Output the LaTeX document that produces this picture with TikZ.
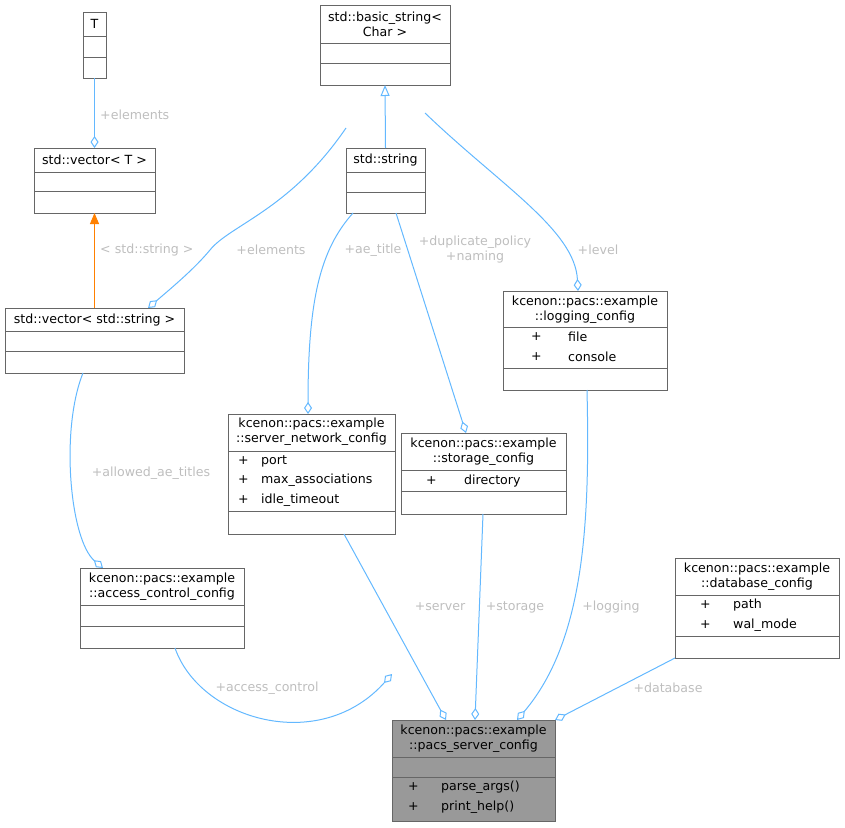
\documentclass[tikz,border=0pt]{standalone}
\usepackage{fontspec}
\setmainfont{DejaVu Sans}
\usetikzlibrary{arrows.meta}
\definecolor{edgeblue}{RGB}{99,184,255}
\definecolor{lblgray}{RGB}{190,190,190}
\definecolor{boxgray}{RGB}{102,102,102}
\definecolor{mainfill}{RGB}{153,153,153}
\newcommand\mkbox[6]{\node[box,fill=#6,minimum width={(#4-#2)*1pt},minimum height={(#5-#3)*1pt},anchor=north west] (#1) at (#2,#3) {};}
\newcommand\hsep[3]{\draw[boxgray,line width=1pt] (#1,#3) -- (#2,#3);}
\begin{document}
\begin{tikzpicture}[x=1pt,y=-1pt,
  box/.style={draw=boxgray,line width=1pt,inner sep=0pt,outer sep=0pt},
  txt/.style={font=\fontsize{12.6}{15}\selectfont,inner sep=0pt,text=black,align=center},
  mem/.style={txt,anchor=west},
  lbl/.style={font=\fontsize{12.6}{15}\selectfont,inner sep=0pt,text=lblgray,align=center},
  edge/.style={draw=edgeblue,line width=1pt},
  agg/.style={edge,-{Diamond[open,length=12pt,width=8pt]}},
]
\useasboundingbox (0,0) rectangle (845,827);
% T
\mkbox{T}{83}{12}{106}{78}{white}
\hsep{83}{106}{36}\hsep{83}{106}{57}
\node[txt] (Tt) at (94.5,24) {T};
% vector<T>
\mkbox{vecT}{34}{148}{155}{213}{white}
\hsep{34}{155}{172}\hsep{34}{155}{191}
\node[txt] (vecTt) at (94.5,160) {std::vector< T >};
% vector<string>
\mkbox{vecS}{5}{308}{184}{373}{white}
\hsep{5}{184}{331}\hsep{5}{184}{351}
\node[txt] (vecSt) at (94.5,320) {std::vector< std::string >};
% basic_string
\mkbox{basic}{320}{5}{450}{85}{white}
\hsep{320}{450}{43}\hsep{320}{450}{63}
\node[txt] (basict) at (385,24) {std::basic\_string<\\Char >};
% string
\mkbox{str}{346}{148}{425}{213}{white}
\hsep{346}{425}{172}\hsep{346}{425}{192}
\node[txt] (strt) at (385.5,160) {std::string};
% logging
\mkbox{log}{503}{291}{667}{390}{white}
\hsep{503}{667}{327}\hsep{503}{667}{368}
\node[txt] (logt) at (585,310) {kcenon::pacs::example\\::logging\_config};
\node[mem] (log1a) at (531,337) {+};\node[mem] (log1b) at (568,337) {file};
\node[mem] (log2a) at (531,357) {+};\node[mem] (log2b) at (568,357) {console};
% server
\mkbox{srv}{228}{414}{395}{534}{white}
\hsep{228}{395}{451}\hsep{228}{395}{511}
\node[txt] (srvt) at (311.5,432) {kcenon::pacs::example\\::server\_network\_config};
\node[mem] (s1a) at (238,461) {+};\node[mem] (s1b) at (261,461) {port};
\node[mem] (s2a) at (238,480) {+};\node[mem] (s2b) at (261,480) {max\_associations};
\node[mem] (s3a) at (238,500) {+};\node[mem] (s3b) at (261,500) {idle\_timeout};
% storage
\mkbox{sto}{401}{433}{566}{514}{white}
\hsep{401}{566}{470}\hsep{401}{566}{491}
\node[txt] (stot) at (483.5,452) {kcenon::pacs::example\\::storage\_config};
\node[mem] (st1a) at (426,481) {+};\node[mem] (st1b) at (464,481) {directory};
% database
\mkbox{db}{675}{558}{839}{658}{white}
\hsep{675}{839}{595}\hsep{675}{839}{636}
\node[txt] (dbt) at (757,577) {kcenon::pacs::example\\::database\_config};
\node[mem] (d1a) at (700,605) {+};\node[mem] (d1b) at (733,605) {path};
\node[mem] (d2a) at (700,625) {+};\node[mem] (d2b) at (733,625) {wal\_mode};
% access
\mkbox{acc}{80}{568}{244}{648}{white}
\hsep{80}{244}{605}\hsep{80}{244}{626}
\node[txt] (acct) at (162,587) {kcenon::pacs::example\\::access\_control\_config};
% pacs
\mkbox{pacs}{392}{720}{555}{821}{mainfill}
\hsep{392}{555}{757}\hsep{392}{555}{777}
\node[txt] (pacst) at (473.5,739) {kcenon::pacs::example\\::pacs\_server\_config};
\node[mem] (p1a) at (408,787) {+};\node[mem] (p1b) at (441,787) {parse\_args()};
\node[mem] (p2a) at (408,807) {+};\node[mem] (p2b) at (441,807) {print\_help()};

% edges
\draw[agg] ([xshift=11.5]T.south west) -- ([xshift=60.5]vecT.north west);
\node[lbl,anchor=west] (l1) at (100,115) {+elements};
\draw[edge,-{Triangle[open,length=11pt,width=9pt]}] ([xshift=39.5]str.north west) -- ([xshift=65]basic.south west);
\draw[draw=orange,line width=1pt,-{Triangle[length=11pt,width=9pt]},fill=orange] ([xshift=89.5]vecS.north west) -- ([xshift=60.5]vecT.south west);
\node[lbl,anchor=west] (l2) at (100,250) {< std::string >};
\draw[agg] ([yshift=20]str.north west) .. controls (290,210) and (230,225) .. (210,250) .. controls (195,268) and (175,285) .. ([xshift=143]vecS.north west);
\node[lbl] (l3) at (271,250) {+elements};
\draw[agg] ([xshift=7]str.south west) .. controls (320,250) and (308,300) .. ([xshift=80]srv.north west);
\node[lbl] (l4) at (373,250) {+ae\_title};
\draw[agg] ([xshift=50]str.south west) -- ([xshift=65]sto.north west);
\node[lbl] (l5) at (475,250) {+duplicate\_policy\\+naming};
\draw[agg] ([yshift=35]str.north east) .. controls (500,185) and (575,230) .. ([xshift=75]log.north west);
\node[lbl] (l6) at (598,250) {+level};
\draw[agg] ([xshift=78]vecS.south west) .. controls (60,430) and (70,540) .. ([xshift=23]acc.north west);
\node[lbl] (l7) at (151,473) {+allowed\_ae\_titles};
\draw[agg] ([xshift=95]acc.south west) .. controls (200,720) and (320,755) .. ([yshift=46]pacs.north west);
\node[lbl] (l8) at (267,688) {+access\_control};
\draw[agg] ([xshift=116]srv.south west) -- ([xshift=54]pacs.north west);
\node[lbl] (l9) at (440,607) {+server};
\draw[agg] ([xshift=82]sto.south west) -- ([xshift=83]pacs.north west);
\node[lbl] (l10) at (515,607) {+storage};
\draw[agg] ([xshift=84]log.south west) .. controls (590,520) and (585,640) .. ([xshift=125]pacs.north west);
\node[lbl] (l11) at (611,607) {+logging};
\draw[agg] (db.south west) -- (pacs.north east);
\node[lbl] (l12) at (668,688) {+database};
\end{tikzpicture}
\end{document}
